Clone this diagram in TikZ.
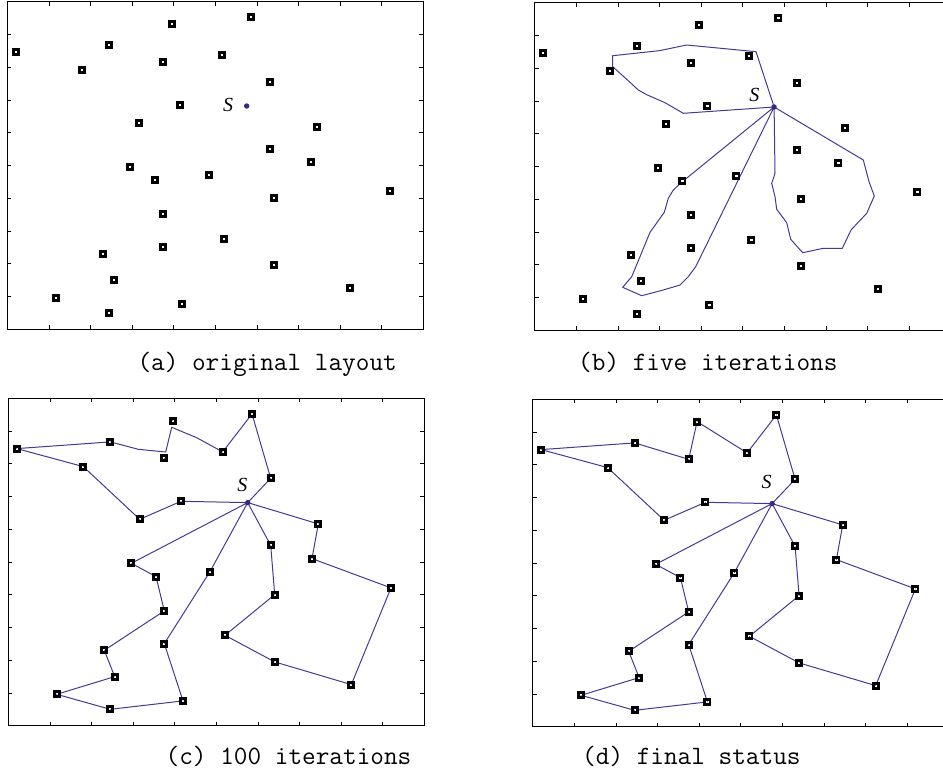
\documentclass[tikz,border=0pt]{standalone}
\usepackage{fontspec}
\newfontfamily\slfont{Liberation Serif}
\definecolor{pathc}{RGB}{72,56,150}
\definecolor{dotc}{RGB}{58,38,128}
\def\ptlist{P1/8.4/50.3, P2/102/43.6, P3/164.4/22.3, P4/243.7/15.6, P5/156/60, P6/214.4/53.6, P7/75/68.3, P8/262.4/80, P9/172.7/103, P11/131.4/121, P12/310/125.6, P13/262.4/147, P14/303.7/160.3, P15/123/165, P16/147.7/178.3, P17/201.7/173.3, P18/266.4/196.3, P19/382.7/189.6, P20/156/212.6, P21/216.7/237, P22/156/245.3, P23/96/252, P24/266.4/263.6, P25/106.4/278.3, P26/343/286.3, P27/48.4/296, P28/174.7/302.6, P29/102/311}
\newcommand\mkpts[1]{\foreach \n/\x/\y in \ptlist {\coordinate (#1\n) at (\x,\y);}\coordinate (#1S) at (239.4,104.3);}
\newcommand\mksq[1]{\foreach \n/\x/\y in \ptlist {\node[sqo] (#1\n-sq) at (#1\n) {}; \node[sqi] (#1\n-in) at (#1\n) {};}}
\newcommand\mkcen[1]{\foreach \n/\x/\y in \ptlist {\node[cen] (#1\n-c) at (#1\n) {};}}
\newcommand\panelframe{%
  \draw[pframe] (0,0) rectangle (416,327.5);
  \foreach \i in {1,...,9}{
    \draw[ptick] (41.6*\i,0) -- ++(0,4);
    \draw[ptick] (41.6*\i,327.5) -- ++(0,-4);
    \draw[ptick] (0,32.75*\i) -- ++(4,0);
    \draw[ptick] (416,32.75*\i) -- ++(-4,0);
  }}
\begin{document}
\begin{tikzpicture}[x=1pt,y=-1pt,
  sqo/.style={rectangle,fill=black,minimum size=8pt,inner sep=0pt,outer sep=0pt},
  sqi/.style={rectangle,fill=white,minimum size=2.2pt,inner sep=0pt,outer sep=0pt},
  cen/.style={circle,fill=pathc,inner sep=0pt,minimum size=1.1pt},
  sdot/.style={circle,fill=dotc,inner sep=0pt,minimum size=5.4pt},
  slab/.style={font=\slfont\itshape\fontsize{20}{20}\selectfont,inner sep=0pt},
  capt/.style={font=\ttfamily\fontsize{26.5}{26.5}\selectfont,anchor=base west,inner sep=0pt},
  route/.style={draw=pathc,line width=1pt,line join=round},
  pframe/.style={line width=1.3pt},
  ptick/.style={line width=0.8pt}]
\clip (0,0) rectangle (943,776);
% (a)
\begin{scope}[shift={(7.3,1.7)}]
  \panelframe
  \mkpts{a}
  \mksq{a}
  \node[sdot] (aSd) at (aS) {};
  \node[slab] (aSl) at (220.7,103) {S};
\end{scope}
% (b)
\begin{scope}[shift={(534.7,2.7)}]
  \panelframe
  \mkpts{b}
  \draw[route] (bS) -- (221.3,49) -- (152,42.3) -- (124.6,48) -- (78,53) -- (78,64) -- (92,76.6) -- (103.6,87.3) -- (112,92) -- (130.3,100) -- (148.6,110.6) -- (bS);
  \draw[route] (bS) -- (147.6,179) -- (138.6,187.3) -- (133.6,195.6) -- (129.6,209.6) -- (115.3,229.6) -- (105.3,254) -- (97,274) -- (88,284.6) -- (107,293) -- (128.6,287.3) -- (145.3,282.3) -- (153.6,274) -- (161,264) -- (bS);
  \draw[route] (bS) -- (240.3,170.6) -- (237,180.6) -- (240.3,194) -- (242,206.6) -- (252,220) -- (256,236.6) -- (268,250) -- (288.6,245.6) -- (307.6,245.6) -- (316.3,227.3) -- (332,210.6) -- (339.6,193.3) -- (334.3,179) -- (328.6,157.3) -- (bS);
  \mksq{b}
  \node[sdot] (bSd) at (bS) {};
  \node[slab] (bSl) at (219.6,92.3) {S};
\end{scope}
% (c)
\begin{scope}[shift={(8.3,398.3)}]
  \panelframe
  \mkpts{c}
  \draw[route] (cS) -- (cP8) -- (cP4) -- (cP6) -- (188.4,39.4) -- (163.4,29) -- (157.4,53.7) -- (130,51) -- (cP2) -- (cP1) -- (cP7) -- (cP11) -- (cP9) -- (cS);
  \draw[route] (cS) -- (cP15) -- (cP16) -- (cP20) -- (cP23) -- (cP25) -- (cP27) -- (cP29) -- (cP28) -- (cP22) -- (cP17) -- (cS);
  \draw[route] (cS) -- (cP13) -- (cP18) -- (cP21) -- (cP24) -- (cP26) -- (cP19) -- (cP14) -- (cP12) -- (cS);
  \mksq{c}
  \mkcen{c}
  \node[sdot] (cSd) at (cS) {};
  \node[slab] (cSl) at (234,86.7) {S};
\end{scope}
% (d)
\begin{scope}[shift={(532.7,399.3)}]
  \panelframe
  \mkpts{d}
  \draw[route] (dS) -- (dP8) -- (dP4) -- (dP6) -- (dP3) -- (dP5) -- (dP2) -- (dP1) -- (dP7) -- (dP11) -- (dP9) -- (dS);
  \draw[route] (dS) -- (dP15) -- (dP16) -- (dP20) -- (dP23) -- (dP25) -- (dP27) -- (dP29) -- (dP28) -- (dP22) -- (dP17) -- (dS);
  \draw[route] (dS) -- (dP13) -- (dP18) -- (dP21) -- (dP24) -- (dP26) -- (dP19) -- (dP14) -- (dP12) -- (dS);
  \mksq{d}
  \mkcen{d}
  \node[sdot] (dSd) at (dS) {};
  \node[slab] (dSl) at (234,82.4) {S};
\end{scope}
% captions
\node[capt] (capa) at (137.3,370) {(a) original layout};
\node[capt] (capb) at (578,370) {(b) five iterations};
\node[capt] (capc) at (165.5,764) {(c) 100 iterations};
\node[capt] (capd) at (582,764) {(d) final status};
\end{tikzpicture}
\end{document}
